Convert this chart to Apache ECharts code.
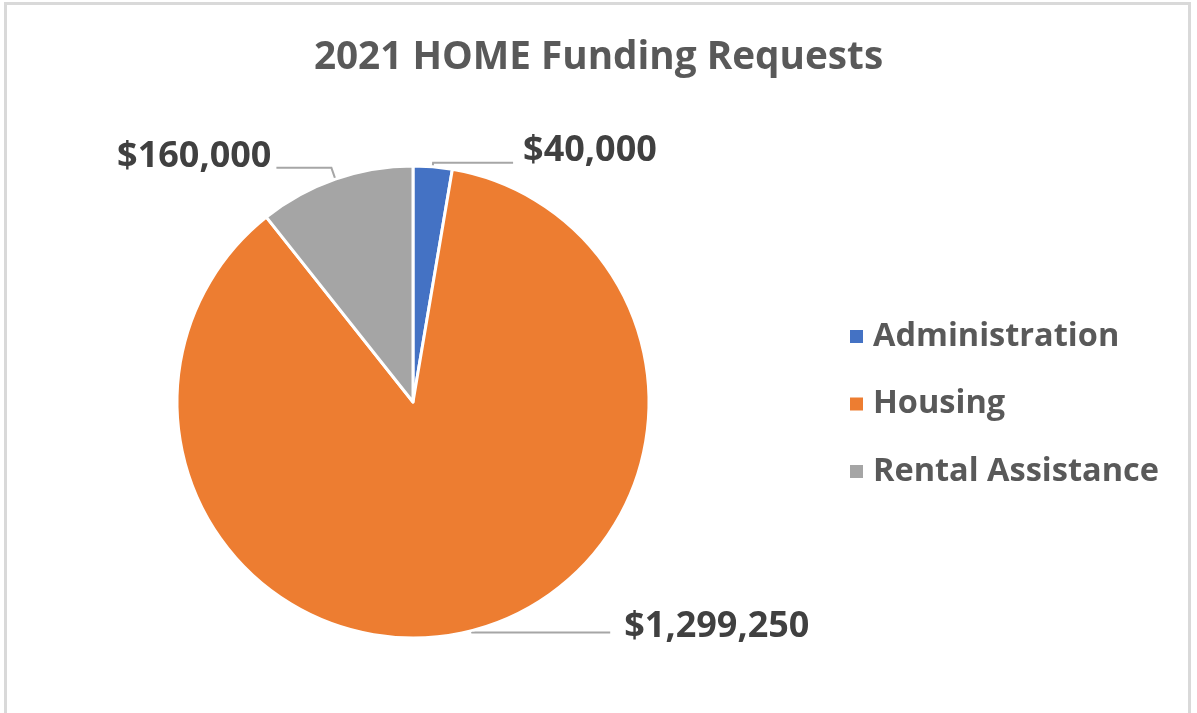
<!DOCTYPE html>
<html>
<head>
<meta charset="utf-8">
<script src="https://cdn.jsdelivr.net/npm/echarts@6/dist/echarts.min.js"></script>
<style>
html,body{margin:0;padding:0;background:#fff;}
#frame{position:absolute;left:4px;top:2px;width:1187px;height:715px;border:3px solid #d9d9d9;box-sizing:border-box;}
#chart{position:absolute;left:0;top:0;width:1197px;height:713px;}
</style>
</head>
<body>
<div id="frame"></div>
<div id="chart"></div>
<script>
const titleText = '2021 HOME Funding Requests';
const categories = ['Administration', 'Housing', 'Rental Assistance'];
const values = [40000, 1299250, 160000];
const colors = ['#4472C4', '#ED7D31', '#A5A5A5'];

const chart = echarts.init(document.getElementById('chart'));
const fmt = v => '$' + v.toLocaleString('en-US');
const font = '"Open Sans", sans-serif';

// per-slice label leader tweaks (styling only)
const leader = [
  { length: 4, length2: 80, dist: 10, lh: 24 },
  { length: 2, length2: 138, dist: 14, lh: 12 },
  { length: 12, length2: 55, dist: 5, lh: 22 }
];

chart.setOption({
  animation: false,
  backgroundColor: 'transparent',
  title: {
    text: titleText,
    left: 'center',
    top: 33,
    textStyle: { fontFamily: font, fontSize: 38.7, fontWeight: 'bold', color: '#595959' }
  },
  legend: {
    orient: 'vertical',
    left: 843,
    top: 315,
    itemWidth: 15,
    itemHeight: 15,
    itemGap: 34.5,
    icon: 'rect',
    data: categories,
    textStyle: { fontFamily: font, fontSize: 32.5, fontWeight: 'bold', color: '#595959', padding: [0, 0, 0, 4] }
  },
  series: [{
    type: 'pie',
    center: [413, 402],
    radius: 236,
    startAngle: 90,
    clockwise: true,
    color: colors,
    itemStyle: { borderColor: '#fff', borderWidth: 3 },
    label: {
      show: true,
      position: 'outside',
      formatter: p => fmt(p.value) + '\n',
      fontFamily: font,
      fontSize: 36,
      fontWeight: 'bold',
      color: '#404040'
    },
    labelLine: { show: true, lineStyle: { color: '#a6a6a6', width: 2 } },
    data: categories.map((c, i) => ({
      name: c,
      value: values[i],
      label: { distanceToLabelLine: leader[i].dist, lineHeight: leader[i].lh },
      labelLine: { length: leader[i].length, length2: leader[i].length2 }
    }))
  }]
});
</script>
</body>
</html>
